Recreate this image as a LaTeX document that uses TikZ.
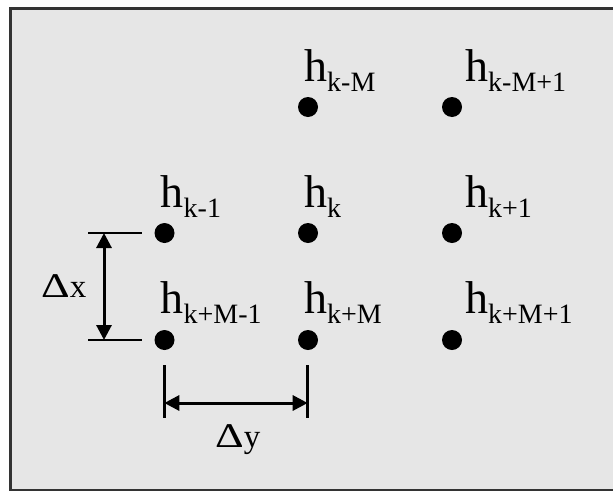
\documentclass[tikz,border=0pt]{standalone}
\usepackage{fontspec}
\setmainfont{Liberation Serif}
\usetikzlibrary{arrows.meta}
\definecolor{bgfill}{HTML}{E6E6E6}
\definecolor{framecol}{HTML}{333333}
\newcommand{\hlab}[1]{{\fontsize{46}{46}\selectfont h}\raisebox{-10pt}{\fontsize{28}{28}\selectfont #1}}
\newcommand{\wideDelta}{\scalebox{1.35}[1.05]{Δ}}
\begin{document}
\begin{tikzpicture}[x=1pt,y=-1pt,
  dot/.style={circle,fill=black,minimum size=20pt,inner sep=0pt},
  lab/.style={anchor=base west,inner sep=0pt},
  dimline/.style={line width=3pt,{Triangle[length=15pt,width=15pt]}-{Triangle[length=15pt,width=15pt]}},
  extline/.style={line width=2.5pt},
  dimtext/.style={font=\fontsize{33}{33}\selectfont,inner sep=0pt,anchor=base west}]
\useasboundingbox (0,0) rectangle (613,493);
\begin{scope}
  \clip (0,0) rectangle (613,493);
  \draw[fill=bgfill,draw=framecol,line width=2.2pt] (10.5,8.5) rectangle (630,490);
\end{scope}
% dots
\node[dot] (d12) at (308,107) {};
\node[dot] (d13) at (452,107) {};
\node[dot] (d21) at (164.5,233) {};
\node[dot] (d22) at (308,233) {};
\node[dot] (d23) at (452,233) {};
\node[dot] (d31) at (164.5,340) {};
\node[dot] (d32) at (308,340) {};
\node[dot] (d33) at (452,340) {};
% labels
\node[lab] (l12) at (304,81) {\hlab{k-M}};
\node[lab] (l13) at (465,81) {\hlab{k-M+1}};
\node[lab] (l21) at (160.5,207) {\hlab{k-1}};
\node[lab] (l22) at (304,207) {\hlab{k}};
\node[lab] (l23) at (465,207) {\hlab{k+1}};
\node[lab] (l31) at (160.5,313) {\hlab{k+M-1}};
\node[lab] (l32) at (304,313) {\hlab{k+M}};
\node[lab] (l33) at (465,313) {\hlab{k+M+1}};
% dimension x
\coordinate (ex1a) at (88,233);
\coordinate (ex1b) at (142,233);
\coordinate (ex2a) at (88,340);
\coordinate (ex2b) at (142,340);
\coordinate (dxa) at (104,233);
\coordinate (dxb) at (104,340);
\draw[extline] (ex1a) -- (ex1b);
\draw[extline] (ex2a) -- (ex2b);
\draw[dimline] (dxa) -- (dxb);
\node[dimtext] (dxt) at (41,297) {\wideDelta x};
% dimension y
\coordinate (ey1a) at (164.3,365);
\coordinate (ey1b) at (164.3,418);
\coordinate (ey2a) at (307.7,365);
\coordinate (ey2b) at (307.7,418);
\coordinate (dya) at (164.3,403);
\coordinate (dyb) at (307.7,403);
\draw[extline] (ey1a) -- (ey1b);
\draw[extline] (ey2a) -- (ey2b);
\draw[dimline] (dya) -- (dyb);
\node[dimtext] (dyt) at (215,447) {\wideDelta y};
\end{tikzpicture}
\end{document}
